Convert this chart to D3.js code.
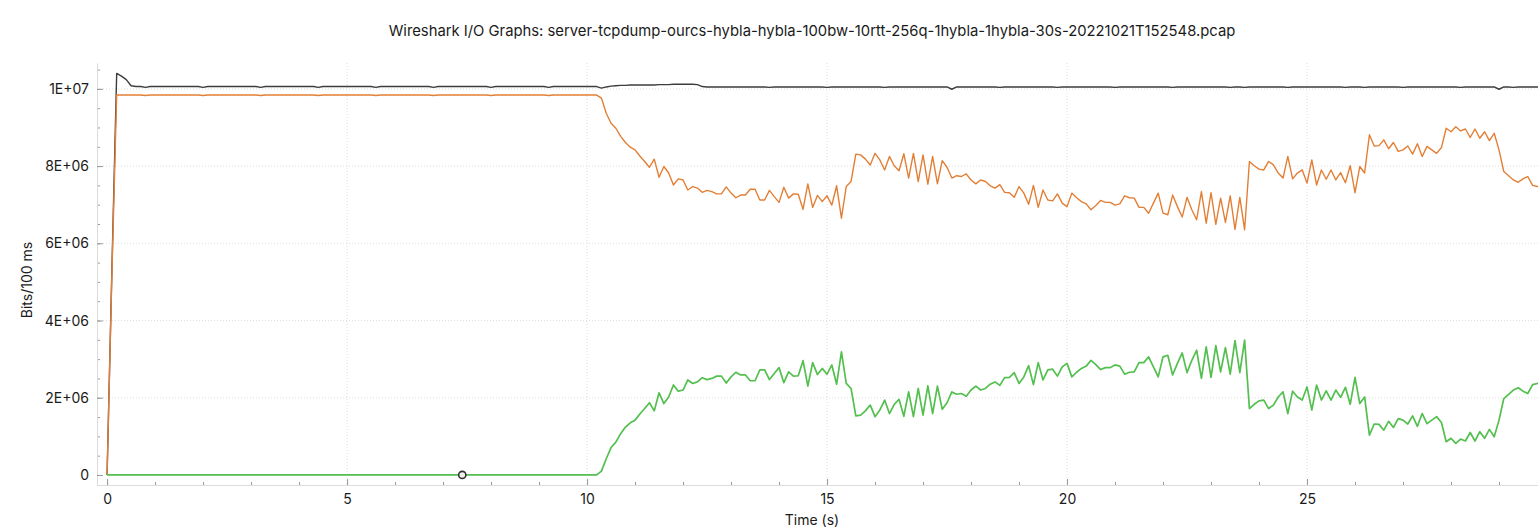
<!DOCTYPE html>
<meta charset="utf-8">
<script src="https://d3js.org/d3.v7.min.js"></script>
<style>
body { margin: 0; background: #fff; }
text { font-family: Inter, "Liberation Sans", sans-serif; fill: #1a1a1a; }
.grid line { stroke: #dedede; stroke-dasharray: 1,2; }
.axis path { stroke: #dcdcdc; }
.axis line { stroke: #9a9a9a; }
.axis text { font-size: 14px; }
path.series { fill: none; stroke-linejoin: round; }
</style>
<body>
<script>

var title = "Wireshark I/O Graphs: server-tcpdump-ourcs-hybla-hybla-100bw-10rtt-256q-1hybla-1hybla-30s-20221021T152548.pcap";

// one value every 100 ms, in millions of bits
var interval = 0.1;

var allPackets = [
  0, 5.3, 10.40, 10.33, 10.24, 10.08, 10.06, 10.06, 10.04, 10.06,
  10.06, 10.06, 10.06, 10.06, 10.06, 10.06, 10.06, 10.06, 10.06, 10.06,
  10.04, 10.06, 10.06, 10.06, 10.06, 10.06, 10.06, 10.06, 10.06, 10.06,
  10.06, 10.06, 10.04, 10.06, 10.06, 10.06, 10.06, 10.06, 10.06, 10.06,
  10.06, 10.06, 10.06, 10.06, 10.04, 10.06, 10.06, 10.06, 10.06, 10.06,
  10.06, 10.06, 10.06, 10.06, 10.06, 10.06, 10.04, 10.06, 10.06, 10.06,
  10.06, 10.06, 10.06, 10.06, 10.06, 10.06, 10.06, 10.06, 10.04, 10.06,
  10.06, 10.06, 10.06, 10.06, 10.06, 10.06, 10.06, 10.06, 10.06, 10.06,
  10.04, 10.06, 10.06, 10.06, 10.06, 10.06, 10.06, 10.06, 10.06, 10.06,
  10.06, 10.06, 10.04, 10.06, 10.06, 10.06, 10.06, 10.06, 10.06, 10.06,
  10.06, 10.06, 10.06, 10.02, 10.05, 10.07, 10.08, 10.09, 10.09, 10.10,
  10.10, 10.10, 10.10, 10.10, 10.10, 10.11, 10.11, 10.11, 10.12, 10.12,
  10.12, 10.12, 10.12, 10.11, 10.06, 10.05, 10.05, 10.05, 10.05, 10.05,
  10.05, 10.05, 10.05, 10.05, 10.05, 10.05, 10.05, 10.05, 10.04, 10.05,
  10.05, 10.05, 10.05, 10.05, 10.05, 10.05, 10.05, 10.05, 10.05, 10.05,
  10.04, 10.05, 10.05, 10.05, 10.05, 10.05, 10.05, 10.05, 10.05, 10.05,
  10.05, 10.05, 10.04, 10.05, 10.05, 10.05, 10.05, 10.05, 10.05, 10.05,
  10.05, 10.05, 10.05, 10.05, 10.05, 10.05, 9.99, 10.05, 10.05, 10.05,
  10.05, 10.05, 10.05, 10.05, 10.05, 10.05, 10.04, 10.05, 10.05, 10.05,
  10.05, 10.05, 10.05, 10.05, 10.05, 10.05, 10.05, 10.05, 10.04, 10.05,
  10.05, 10.05, 10.05, 10.05, 10.05, 10.05, 10.05, 10.05, 10.05, 10.05,
  10.04, 10.05, 10.05, 10.05, 10.05, 10.05, 10.05, 10.05, 10.05, 10.05,
  10.05, 10.05, 10.04, 10.05, 10.05, 10.05, 10.05, 10.05, 10.05, 10.05,
  10.05, 10.05, 10.05, 10.05, 10.04, 10.05, 10.05, 10.04, 10.05, 10.05,
  10.05, 10.05, 10.05, 10.05, 10.05, 10.05, 10.04, 10.05, 10.05, 10.05,
  10.05, 10.05, 10.05, 10.05, 10.05, 10.05, 10.05, 10.05, 10.04, 10.05,
  10.05, 10.05, 10.04, 10.05, 10.05, 10.05, 10.05, 10.05, 10.05, 10.05,
  10.04, 10.05, 10.05, 10.05, 10.05, 10.05, 10.05, 10.05, 10.05, 10.05,
  10.05, 10.05, 10.04, 10.05, 10.05, 10.05, 10.05, 10.05, 10.05, 10.05,
  9.99, 10.05, 10.05, 10.04, 10.05, 10.05, 10.05, 10.05, 10.05, 10.05
];

var flowA = [
  0, 5.2, 9.84, 9.84, 9.84, 9.84, 9.84, 9.84, 9.83, 9.84,
  9.84, 9.84, 9.84, 9.84, 9.84, 9.84, 9.84, 9.84, 9.84, 9.84,
  9.83, 9.84, 9.84, 9.84, 9.84, 9.84, 9.84, 9.84, 9.84, 9.84,
  9.84, 9.84, 9.83, 9.84, 9.84, 9.84, 9.84, 9.84, 9.84, 9.84,
  9.84, 9.84, 9.84, 9.84, 9.83, 9.84, 9.84, 9.84, 9.84, 9.84,
  9.84, 9.84, 9.84, 9.84, 9.84, 9.84, 9.83, 9.84, 9.84, 9.84,
  9.84, 9.84, 9.84, 9.84, 9.84, 9.84, 9.84, 9.84, 9.83, 9.84,
  9.84, 9.84, 9.84, 9.84, 9.84, 9.84, 9.84, 9.84, 9.84, 9.84,
  9.83, 9.84, 9.84, 9.84, 9.84, 9.84, 9.84, 9.84, 9.84, 9.84,
  9.84, 9.84, 9.83, 9.84, 9.84, 9.84, 9.84, 9.84, 9.84, 9.84,
  9.84, 9.84, 9.84, 9.76, 9.37, 9.11, 8.98, 8.77, 8.61, 8.49,
  8.42, 8.26, 8.12, 7.97, 8.18, 7.71, 7.99, 7.82, 7.51, 7.67,
  7.64, 7.38, 7.47, 7.43, 7.32, 7.37, 7.34, 7.28, 7.28, 7.46,
  7.30, 7.18, 7.25, 7.25, 7.40, 7.40, 7.12, 7.12, 7.37, 7.21,
  7.06, 7.45, 7.17, 7.28, 7.27, 6.88, 7.54, 6.93, 7.24, 7.08,
  7.23, 6.99, 7.49, 6.65, 7.47, 7.60, 8.31, 8.29, 8.18, 8.03,
  8.33, 8.16, 7.90, 8.25, 8.01, 7.88, 8.32, 7.69, 8.33, 7.60,
  8.29, 7.53, 8.25, 7.54, 8.14, 7.97, 7.69, 7.75, 7.73, 7.80,
  7.64, 7.54, 7.64, 7.60, 7.49, 7.43, 7.52, 7.32, 7.31, 7.19,
  7.47, 7.30, 7.01, 7.50, 6.93, 7.38, 7.12, 7.10, 7.28, 7.04,
  6.95, 7.30, 7.18, 7.08, 7.02, 6.87, 6.98, 7.11, 7.06, 7.06,
  6.99, 7.02, 7.23, 7.18, 7.17, 6.93, 6.93, 6.78, 7.04, 7.30,
  6.78, 6.74, 7.25, 6.95, 6.68, 7.19, 6.87, 6.61, 7.34, 6.52,
  7.31, 6.49, 7.17, 6.54, 7.23, 6.36, 7.19, 6.35, 8.12, 8.01,
  7.92, 7.90, 8.12, 8.03, 7.82, 7.69, 8.25, 7.67, 7.82, 7.90,
  7.56, 8.16, 7.51, 7.90, 7.66, 7.90, 7.64, 7.83, 7.57, 8.01,
  7.31, 7.99, 7.82, 8.81, 8.52, 8.53, 8.68, 8.45, 8.61, 8.38,
  8.42, 8.52, 8.31, 8.58, 8.25, 8.51, 8.42, 8.33, 8.48, 8.98,
  8.89, 9.02, 8.91, 8.96, 8.74, 8.96, 8.72, 8.89, 8.66, 8.85,
  8.42, 7.86, 7.75, 7.64, 7.58, 7.67, 7.73, 7.50, 7.47, 7.47
];

var flowB = [
  0, 0, 0, 0, 0, 0, 0, 0, 0, 0,
  0, 0, 0, 0, 0, 0, 0, 0, 0, 0,
  0, 0, 0, 0, 0, 0, 0, 0, 0, 0,
  0, 0, 0, 0, 0, 0, 0, 0, 0, 0,
  0, 0, 0, 0, 0, 0, 0, 0, 0, 0,
  0, 0, 0, 0, 0, 0, 0, 0, 0, 0,
  0, 0, 0, 0, 0, 0, 0, 0, 0, 0,
  0, 0, 0, 0, 0, 0, 0, 0, 0, 0,
  0, 0, 0, 0, 0, 0, 0, 0, 0, 0,
  0, 0, 0, 0, 0, 0, 0, 0, 0, 0,
  0, 0, 0, 0.10, 0.42, 0.71, 0.85, 1.07, 1.24, 1.35,
  1.42, 1.58, 1.72, 1.87, 1.66, 2.13, 1.85, 2.02, 2.33, 2.17,
  2.20, 2.46, 2.37, 2.41, 2.52, 2.47, 2.50, 2.56, 2.56, 2.38,
  2.54, 2.66, 2.59, 2.59, 2.44, 2.44, 2.72, 2.72, 2.47, 2.63,
  2.78, 2.39, 2.67, 2.56, 2.57, 2.96, 2.30, 2.91, 2.60, 2.76,
  2.61, 2.85, 2.35, 3.19, 2.37, 2.24, 1.53, 1.55, 1.66, 1.81,
  1.51, 1.68, 1.94, 1.59, 1.83, 1.96, 1.52, 2.15, 1.51, 2.24,
  1.55, 2.31, 1.59, 2.30, 1.70, 1.87, 2.15, 2.09, 2.11, 2.04,
  2.20, 2.30, 2.20, 2.24, 2.35, 2.41, 2.32, 2.52, 2.53, 2.65,
  2.37, 2.54, 2.83, 2.34, 2.91, 2.46, 2.72, 2.74, 2.56, 2.80,
  2.89, 2.54, 2.66, 2.76, 2.82, 2.97, 2.86, 2.73, 2.78, 2.78,
  2.85, 2.82, 2.61, 2.66, 2.67, 2.91, 2.91, 3.06, 2.80, 2.54,
  3.06, 3.10, 2.59, 2.89, 3.16, 2.65, 2.97, 3.23, 2.50, 3.32,
  2.53, 3.35, 2.67, 3.30, 2.61, 3.48, 2.65, 3.49, 1.72, 1.83,
  1.92, 1.94, 1.72, 1.81, 2.02, 2.15, 1.59, 2.17, 2.02, 1.94,
  2.28, 1.68, 2.33, 1.94, 2.18, 1.94, 2.20, 2.01, 2.27, 1.83,
  2.53, 1.85, 2.02, 1.03, 1.32, 1.31, 1.16, 1.39, 1.23, 1.46,
  1.42, 1.32, 1.53, 1.26, 1.59, 1.33, 1.42, 1.51, 1.36, 0.86,
  0.95, 0.82, 0.93, 0.88, 1.10, 0.88, 1.12, 0.95, 1.18, 0.99,
  1.42, 1.98, 2.09, 2.20, 2.26, 2.17, 2.11, 2.34, 2.37, 2.37
];

var xTicks = [0, 5, 10, 15, 20, 25];
var xMinorTicks = d3.range(0, 31, 1);
var yTicks = [0, 2, 4, 6, 8, 10];
var yTickLabels = ["0", "2E+06", "4E+06", "6E+06", "8E+06", "1E+07"];
var yMinorTicks = d3.range(0, 10.6, 0.5);
var marker = {series: "flowB", time: 7.4};

var width = 1538,
    height = 530;

var plotLeft = 97, plotRight = 1547, plotTop = 63, plotBottom = 485;

var svg = d3.select("body").append("svg")
    .attr("width", width)
    .attr("height", height);

var x = d3.scaleLinear().domain([-0.21, 30]).range([plotLeft, plotRight]);
var y = d3.scaleLinear().domain([-0.26, 10.67]).range([plotBottom, plotTop]);

svg.append("defs").append("clipPath").attr("id", "plot")
  .append("rect")
    .attr("x", plotLeft).attr("y", plotTop)
    .attr("width", plotRight - plotLeft).attr("height", plotBottom - plotTop);

// dotted grid
var grid = svg.append("g").attr("class", "grid");
grid.selectAll(".vx")
    .data(xTicks.slice(1))
    .enter().append("line")
    .attr("x1", function(d) { return x(d); })
    .attr("x2", function(d) { return x(d); })
    .attr("y1", plotTop).attr("y2", plotBottom);
grid.selectAll(".hy")
    .data(yTicks.slice(1))
    .enter().append("line")
    .attr("y1", function(d) { return y(d); })
    .attr("y2", function(d) { return y(d); })
    .attr("x1", plotLeft).attr("x2", plotRight);

// axes, ticks pointing into the plot
svg.append("g").attr("class", "axis")
    .attr("transform", "translate(0," + plotBottom + ")")
    .call(d3.axisBottom(x).tickValues(xMinorTicks).tickSize(-3).tickSizeOuter(0).tickFormat(""));
svg.append("g").attr("class", "axis")
    .attr("transform", "translate(0," + plotBottom + ")")
    .call(d3.axisBottom(x).tickValues(xTicks).tickSize(-6).tickSizeOuter(0).tickPadding(9));

svg.append("g").attr("class", "axis")
    .attr("transform", "translate(" + plotLeft + ",0)")
    .call(d3.axisLeft(y).tickValues(yMinorTicks).tickSize(-3).tickSizeOuter(0).tickFormat(""));
svg.append("g").attr("class", "axis")
    .attr("transform", "translate(" + plotLeft + ",0)")
    .call(d3.axisLeft(y).tickValues(yTicks).tickSize(-6).tickSizeOuter(0).tickPadding(8)
      .tickFormat(function(d, i) { return yTickLabels[i]; }));

var line = d3.line()
    .x(function(d, i) { return x(i * interval); })
    .y(function(d) { return y(d); });

var series = [
  {name: "allPackets", values: allPackets, color: "#3d3d3d", width: 1.4},
  {name: "flowA", values: flowA, color: "#e37f35", width: 1.4},
  {name: "flowB", values: flowB, color: "#52bf4e", width: 1.7}
];

var plot = svg.append("g").attr("clip-path", "url(#plot)");

plot.selectAll("path.series")
    .data(series)
    .enter().append("path")
    .attr("class", "series")
    .attr("d", function(d) { return line(d.values); })
    .style("stroke", function(d) { return d.color; })
    .style("stroke-width", function(d) { return d.width; });

var ms = series.filter(function(s) { return s.name == marker.series; })[0];
plot.append("circle")
    .attr("cx", x(marker.time))
    .attr("cy", y(ms.values[Math.round(marker.time / interval)]))
    .attr("r", 3.6)
    .style("fill", "#f4f4f4")
    .style("stroke", "#333")
    .style("stroke-width", 1.6);

svg.append("text")
    .attr("x", 812).attr("y", 36)
    .attr("text-anchor", "middle")
    .style("font-size", "14.8px")
    .text(title);

svg.append("text")
    .attr("x", 812).attr("y", 525)
    .attr("text-anchor", "middle")
    .style("font-size", "14px")
    .text("Time (s)");

svg.append("text")
    .attr("transform", "translate(32,280) rotate(-90)")
    .attr("text-anchor", "middle")
    .style("font-size", "14px")
    .text("Bits/100 ms");

</script>
</body>
